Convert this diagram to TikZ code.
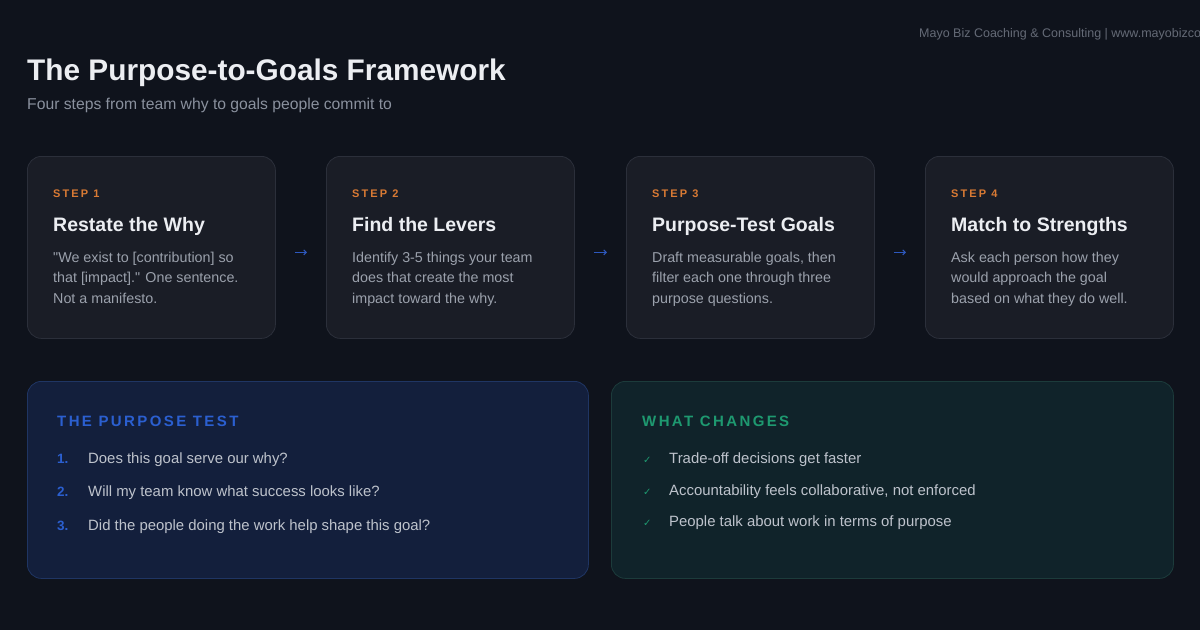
\documentclass[tikz,border=0pt]{standalone}
\usepackage{fontspec}
\setmainfont{Liberation Sans}
\newfontfamily\symfont{DejaVu Sans}
\usetikzlibrary{arrows.meta}
% colours
\definecolor{pagebg}{HTML}{0F131C}
\definecolor{cardfill}{HTML}{1A1D26}
\definecolor{cardline}{HTML}{2B2F3A}
\definecolor{stepcol}{HTML}{D97A34}
\definecolor{headcol}{HTML}{ECEEF2}
\definecolor{bodycol}{HTML}{9BA1AC}
\definecolor{subcol}{HTML}{8A919E}
\definecolor{brandcol}{HTML}{646A76}
\definecolor{flowcol}{HTML}{2D58BE}
\definecolor{testfill}{HTML}{131F3C}
\definecolor{testline}{HTML}{1F3563}
\definecolor{testhead}{HTML}{2B5FD0}
\definecolor{chgfill}{HTML}{10232A}
\definecolor{chgline}{HTML}{1C3B3B}
\definecolor{chghead}{HTML}{1E9970}
\definecolor{itemcol}{HTML}{BEC3CC}
\newcommand{\fsz}[2]{\fontsize{#1}{#2}\selectfont}
\begin{document}
\begin{tikzpicture}[x=1pt,y=-1pt]
\tikzset{
  txt/.style={anchor=base west, inner sep=0pt, align=left},
  card/.style={draw=cardline, fill=cardfill, line width=0.8pt, rounded corners=14pt,
    anchor=north west, inner sep=0pt, minimum width=248pt, minimum height=182pt},
  panel/.style={line width=0.8pt, rounded corners=14pt, anchor=north west, inner sep=0pt,
    minimum height=197pt},
  steplbl/.style={txt, text=stepcol, font={\fsz{11}{13}\bfseries\addfontfeatures{LetterSpace=19}}},
  steptitle/.style={txt, text=headcol, font={\fsz{19.5}{23}\bfseries}},
  stepbody/.style={txt, text=bodycol, font={\fsz{14.3}{20.5}}},
  flow/.style={draw=flowcol, line width=1.1pt, -{Straight Barb[length=2.5pt,width=5pt]},
    shorten <=19pt, shorten >=19pt},
  panelhead/.style={txt, font={\fsz{15}{18}\bfseries\addfontfeatures{LetterSpace=16}}},
  numlbl/.style={txt, text=testhead, font={\fsz{13.5}{15}\bfseries}},
  tick/.style={txt, text=chghead, font={\symfont\fsz{10}{12}}},
  itemtxt/.style={txt, text=itemcol, font={\fsz{14.9}{17}}}
}
% page
\useasboundingbox (0,0) rectangle (1200,630);
\clip (0,0) rectangle (1200,630);
\fill[pagebg] (0,0) rectangle (1200,630);
% header
\node[txt, text=brandcol, font={\fsz{12.5}{14}}] (brand) at (919,37)
  {Mayo Biz Coaching \& Consulting | www.mayobizcoaching.com};
\node[txt, text=headcol, font={\fsz{29.8}{34}\bfseries}] (title) at (27,80)
  {The Purpose-to-Goals Framework};
\node[txt, text=subcol, font={\fsz{15.7}{18}}] (subtitle) at (27,109)
  {Four steps from team why to goals people commit to};
% the four steps (body anchored on its last line)
\foreach \n/\x/\ttl/\body in {
  1/27/{Restate the Why}/{\textquotedbl We exist to [contribution] so\\that [impact].\textquotedbl{} One sentence.\\Not a manifesto.},
  2/326/{Find the Levers}/{Identify 3-5 things your team\\does that create the most\\impact toward the why.},
  3/626/{Purpose-Test Goals}/{Draft measurable goals, then\\filter each one through three\\purpose questions.},
  4/925/{Match to Strengths}/{Ask each person how they\\would approach the goal\\based on what they do well.}}{
  \node[card] (step\n) at (\x,156) {};
  \node[steplbl] (lbl\n) at (\x+26,197) {STEP \n};
  \node[steptitle] (ttl\n) at (\x+26,231) {\ttl};
  \node[stepbody] (txt\n) at (\x+26,303) {\body};
}
% arrows between steps
\foreach \a/\b in {1/2,2/3,3/4}
  \draw[flow] ([yshift=-5pt]step\a.east) -- ([yshift=-5pt]step\b.west);
% the purpose test
\node[panel, draw=testline, fill=testfill, minimum width=561pt] (testbox) at (27,381) {};
\node[panelhead, text=testhead] (testttl) at (57,426) {THE PURPOSE TEST};
\foreach \n/\y/\q in {1/463/{Does this goal serve our why?},
  2/496.5/{Will my team know what success looks like?},
  3/530/{Did the people doing the work help shape this goal?}}{
  \node[numlbl] (num\n) at (57,\y) {\n.};
  \node[itemtxt] (q\n) at (88,\y) {\q};
}
% what changes
\node[panel, draw=chgline, fill=chgfill, minimum width=562pt] (chgbox) at (611,381) {};
\node[panelhead, text=chghead] (chgttl) at (642,426) {WHAT CHANGES};
\foreach \n/\y/\c in {1/463/{Trade-off decisions get faster},
  2/495/{Accountability feels collaborative, not enforced},
  3/526/{People talk about work in terms of purpose}}{
  \node[tick] (chk\n) at (643,\y) {✓};
  \node[itemtxt] (c\n) at (669,\y) {\c};
}
\end{tikzpicture}
\end{document}
